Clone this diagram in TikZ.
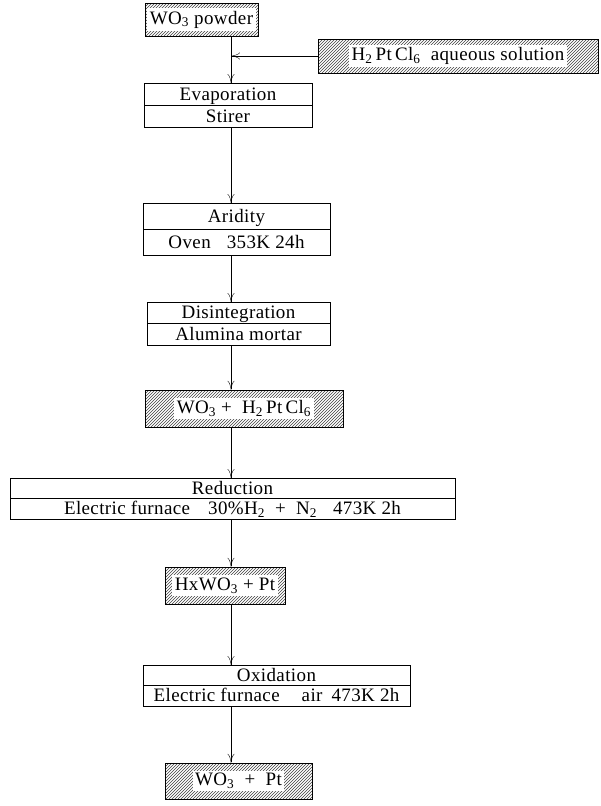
\documentclass[tikz,border=0pt]{standalone}
\usepackage{fontspec}
\setmainfont{Liberation Serif}[LetterSpace=2]
\usetikzlibrary{positioning, patterns, arrows.meta}

\tikzset{
  row/.style={draw, inner sep=0pt, outer sep=0pt, text height=14pt, text depth=2pt, font=\fontsize{19}{21}\selectfont},
  hatch/.style={draw, pattern=north east lines, pattern color=black!75, inner sep=0pt, font=\fontsize{19}{21}\selectfont},
  flow/.style={-{To[length=9pt,width=7pt]}},
}
\newcommand{\wbox}[1]{{\fboxsep=2.5pt\colorbox{white}{#1}}}

\begin{document}
\begin{tikzpicture}[x=1pt,y=-1pt]
\useasboundingbox (0,0) rectangle (601,806);
\coordinate (spine) at (231,0);
% starting materials
\node [hatch, minimum width=113pt, minimum height=33pt] (powder) at (201.5,19.5) {\wbox{WO\textsubscript{3} powder}};
\node [hatch, minimum width=280pt, minimum height=34pt] (solution) at (458,56) {\wbox{H\textsubscript{2}\,Pt\,Cl\textsubscript{6} \ aqueous solution}};
% evaporation
\node [row, minimum width=168pt, minimum height=22pt] (evap) at (228,94) {Evaporation};
\node [row, minimum width=168pt, minimum height=22pt, below=0pt of evap] (stirer) {Stirer};
% aridity
\node [row, minimum width=187pt, minimum height=26pt] (arid) at (236.5,216) {Aridity};
\node [row, minimum width=187pt, minimum height=26pt, below=0pt of arid] (oven) {Oven\hspace{16pt}353K 24h};
% disintegration
\node [row, minimum width=183pt, minimum height=21.5pt] (disint) at (238.5,312.75) {Disintegration};
\node [row, minimum width=183pt, minimum height=21.5pt, below=0pt of disint] (mortar) {Alumina mortar};
\node [hatch, minimum width=198pt, minimum height=37pt] (mix) at (244,408.5) {\wbox{WO\textsubscript{3} + \ H\textsubscript{2}\,Pt\,Cl\textsubscript{6}}};
% reduction
\node [row, minimum width=445pt, minimum height=20.5pt] (reduc) at (232.5,488.25) {Reduction};
\node [row, minimum width=445pt, minimum height=20.5pt, below=0pt of reduc] (furnace1) {Electric furnace\hspace{18pt}30\%H\textsubscript{2} \ + \ N\textsubscript{2}\hspace{16pt}473K 2h\hspace{8pt}};
\node [hatch, minimum width=120pt, minimum height=37pt] (hx) at (225,585.5) {\wbox{HxWO\textsubscript{3} + Pt}};
% oxidation
\node [row, minimum width=267pt, minimum height=20.5pt] (oxid) at (276.5,675.25) {Oxidation\hspace{80pt}};
\node [row, minimum width=267pt, minimum height=20.5pt, below=0pt of oxid] (furnace2) {Electric furnace\hspace{22pt}air\hspace{9pt}473K 2h};
\node [hatch, minimum width=147pt, minimum height=36pt] (final) at (238.5,781) {\wbox{WO\textsubscript{3} \ + \ Pt}};
% connectors
\draw [flow] (powder.south -| spine) -- (evap.north -| spine);
\draw [flow] (solution.west) -- (solution.west -| spine);
\draw [flow] (stirer.south -| spine) -- (arid.north -| spine);
\draw [flow] (oven.south -| spine) -- (disint.north -| spine);
\draw [flow] (mortar.south -| spine) -- (mix.north -| spine);
\draw [flow] (mix.south -| spine) -- (reduc.north -| spine);
\draw [flow] (furnace1.south -| spine) -- (hx.north -| spine);
\draw [flow] (hx.south -| spine) -- (oxid.north -| spine);
\draw [flow] (furnace2.south -| spine) -- (final.north -| spine);
\end{tikzpicture}
\end{document}
